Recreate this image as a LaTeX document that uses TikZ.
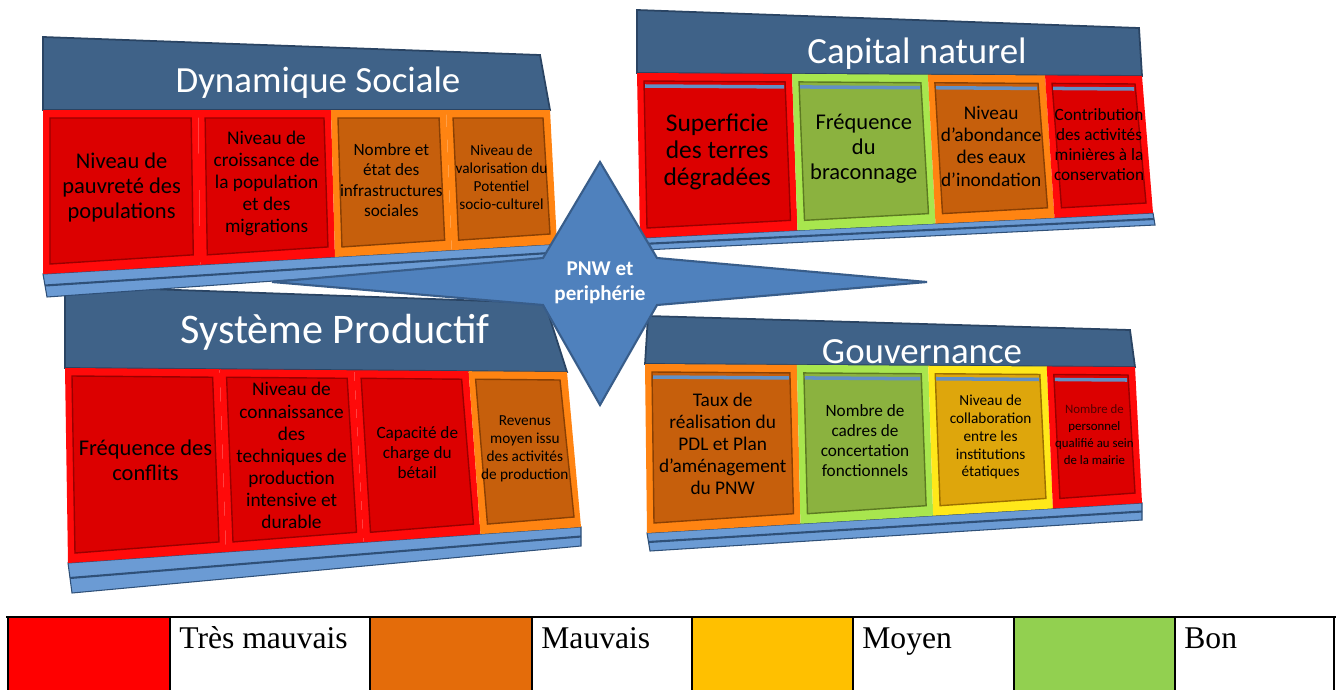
\documentclass[tikz,border=0pt]{standalone}
\usepackage{fontspec}
\setmainfont{Carlito}
\newfontfamily\legendfont{Liberation Serif}
\usetikzlibrary{calc}
\definecolor{redOut}{HTML}{FF0A0A}
\definecolor{redIn}{HTML}{DC0000}
\definecolor{redDk}{HTML}{9A0000}
\definecolor{orangeOut}{HTML}{FF8412}
\definecolor{orangeIn}{HTML}{C65F0C}
\definecolor{orangeDk}{HTML}{8A4004}
\definecolor{greenOut}{HTML}{A8E64E}
\definecolor{greenIn}{HTML}{8BB23F}
\definecolor{greenDk}{HTML}{5C7A22}
\definecolor{yellowOut}{HTML}{FFE81A}
\definecolor{yellowIn}{HTML}{DEA60C}
\definecolor{yellowDk}{HTML}{9C7000}
\definecolor{headBlue}{HTML}{3F6288}
\definecolor{headDark}{HTML}{2A4463}
\definecolor{baseBlue}{HTML}{6B9BD4}
\definecolor{baseDark}{HTML}{2F5078}
\definecolor{starBlue}{HTML}{4F81BD}
\definecolor{starDark}{HTML}{385D8A}
\definecolor{mairieRed}{HTML}{520000}
\definecolor{lgRed}{HTML}{FF0000}
\definecolor{lgOrange}{HTML}{E46C0A}
\definecolor{lgYellow}{HTML}{FFC000}
\definecolor{lgGreen}{HTML}{92D050}

\newcommand{\txtA}{\fontsize{14.5}{15.4}\selectfont}
\newcommand{\txtB}{\fontsize{12.8}{14.2}\selectfont}
\newcommand{\txtC}{\fontsize{11}{12.6}\selectfont}
\newcommand{\txtD}{\fontsize{9.8}{11.4}\selectfont}
\newcommand{\txtE}{\fontsize{8.7}{10.2}\selectfont}
\newcommand{\txtF}{\fontsize{7.3}{9.6}\selectfont}

\tikzset{
  header/.style={fill=headBlue,draw=headDark,line width=1pt},
  baseband/.style={fill=baseBlue,draw=baseDark,line width=0.6pt},
  stripe/.style={draw=baseBlue!80!headBlue,line width=2pt},
  nostripe/.style={draw=none},
  cellText/.style={align=center,inner sep=0pt,text=black},
  headText/.style={anchor=base,inner sep=0pt,text=white,font=\fontsize{21}{25}\selectfont},
  starText/.style={align=center,inner sep=0pt,text=white,font=\bfseries\fontsize{12}{14.2}\selectfont},
  legendText/.style={anchor=base west,inner sep=0pt,font=\legendfont\fontsize{18}{21}\selectfont},
}

% frame of one panel: base band and title bar
\newcommand{\drawpanel}[1]{%
  \filldraw[baseband] (#1-cl) -- (#1-cr) -- (#1-br) -- (#1-bl) -- cycle;
  \draw[baseDark,line width=1.2pt] ($(#1-cl)!0.5!(#1-bl)$) -- ($(#1-cr)!0.5!(#1-br)$);
  \filldraw[header] (#1-tl) -- (#1-tr) -- (#1-hr) -- (#1-hl) -- cycle;
}
% the four indicator cells of one panel
\newcommand{\drawcells}[3]{%
  \foreach \ta/\tb/\col/\sz/\txt [count=\k] in {#3} {
    \coordinate (A) at ($(#1-hl)!\ta!(#1-hr)$);
    \coordinate (B) at ($(#1-hl)!\tb!(#1-hr)$);
    \coordinate (C) at ($(#1-cl)!\tb!(#1-cr)$);
    \coordinate (D) at ($(#1-cl)!\ta!(#1-cr)$);
    \fill[fill=\col Out] (A) -- (B) -- (C) -- (D) -- cycle;
    \filldraw[fill=\col In,draw=\col Dk,line width=0.8pt] ($(A)+(7,8)$) -- ($(B)+(-7,8)$) -- ($(C)+(-7,-10)$) -- ($(D)+(7,-10)$) -- cycle;
    \draw[#2] ($(A)+(8,13)$) -- ($(B)+(-8,13)$);
    \node[cellText,font=\sz] (#1-\k) at ($(A)!0.5!(C)$) {\txt};
  }%
}

\begin{document}
\begin{tikzpicture}[x=0.02cm,y=-0.02cm]
  \useasboundingbox (0,0) rectangle (1338,690);
  \fill[white] (0,0) rectangle (1338,690);

  % Systeme Productif
  \coordinate (sp-tl) at (65,286);  \coordinate (sp-tr) at (545,303);
  \coordinate (sp-hl) at (65,368);  \coordinate (sp-hr) at (567,372);
  \coordinate (sp-cl) at (68,563);  \coordinate (sp-cr) at (581,527);
  \coordinate (sp-bl) at (72,593);  \coordinate (sp-br) at (581,546);
  \drawpanel{sp}
  \drawcells{sp}{nostripe}{0/.308/red/\txtB/{Fréquence des\\conflits},
    .308/.576/red/\txtC/{Niveau de\\connaissance\\des\\techniques de\\production\\intensive et\\durable},
    .576/.804/red/\txtD/{Capacité de\\charge du\\bétail},
    .804/1/orange/\txtE/{Revenus\\moyen issu\\des activités\\de production}}
  \node[headText,font=\fontsize{24}{28}\selectfont] (sp-title) at (335,343) {Système Productif};

  % Dynamique Sociale
  \coordinate (ds-tl) at (43,37);   \coordinate (ds-tr) at (540,55);
  \coordinate (ds-hl) at (43,110);  \coordinate (ds-hr) at (550,110);
  \coordinate (ds-cl) at (43,274);  \coordinate (ds-cr) at (557,244);
  \coordinate (ds-bl) at (47,297);  \coordinate (ds-br) at (557,261);
  \drawpanel{ds}
  \drawcells{ds}{nostripe}{0/.306/red/\txtB/{Niveau de\\pauvreté des\\populations},
    .306/.568/red/\txtC/{Niveau de\\croissance de\\la population\\et des\\migrations},
    .568/.795/orange/\txtD/{Nombre et\\état des\\infrastructures\\sociales},
    .795/1/orange/\txtE/{Niveau de\\valorisation du\\Potentiel\\socio-culturel}}
  \node[headText] (ds-title) at (318,92) {Dynamique Sociale};

  % Gouvernance
  \coordinate (gv-tl) at (648,316); \coordinate (gv-tr) at (1130,330);
  \coordinate (gv-hl) at (645,364); \coordinate (gv-hr) at (1135,367);
  \coordinate (gv-cl) at (647,533); \coordinate (gv-cr) at (1142,503);
  \coordinate (gv-bl) at (650,551); \coordinate (gv-br) at (1142,520);
  \drawpanel{gv}
  \drawcells{gv}{stripe}{0/.31/orange/\txtC/{Taux de\\réalisation du\\PDL et Plan\\d'aménagement\\du PNW},
    .31/.578/green/\txtD/{Nombre de\\cadres de\\concertation\\fonctionnels},
    .578/.82/yellow/\txtE/{Niveau de\\collaboration\\entre les\\institutions\\étatiques},
    .82/1/red/\txtF/{\color{mairieRed}Nombre de\\personnel\\qualifié au sein\\de la mairie}}
  \node[headText] (gv-title) at (922,363) {Gouvernance};

  % Capital naturel
  \coordinate (cn-tl) at (637,10);  \coordinate (cn-tr) at (1139,28);
  \coordinate (cn-hl) at (637,73);  \coordinate (cn-hr) at (1142,76);
  \coordinate (cn-cl) at (640,238); \coordinate (cn-cr) at (1153,213);
  \coordinate (cn-bl) at (644,250); \coordinate (cn-br) at (1155,225);
  \drawpanel{cn}
  \drawcells{cn}{stripe}{0/.307/red/\txtA/{Superficie\\des terres\\dégradées},
    .307/.576/green/\txtB/{Fréquence\\du\\braconnage},
    .576/.808/orange/\txtC/{Niveau\\d'abondance\\des eaux\\d'inondation},
    .808/1/red/\txtD/{Contribution\\des activités\\minières à la\\conservation}}
  \node[headText] (cn-title) at (917,63) {Capital naturel};

  % centre star
  \filldraw[fill=starBlue,draw=starDark,line width=1.2pt] (600,162) -- (657,258) -- (927,282) -- (657,305)
    -- (600,405) -- (543,305) -- (272,282) -- (543,258) -- cycle;
  \node[starText] (pnw) at (600,283) {PNW et\\periphérie};

  % legend
  \foreach \xa/\xb/\col/\txt [count=\k] in {8/170/lgRed/Très mauvais, 370/532/lgOrange/Mauvais,
      692/853/lgYellow/Moyen, 1014/1175/lgGreen/Bon} {
    \fill[\col] (\xa,617) rectangle (\xb,690);
    \draw[line width=1pt] (\xa,617) -- (\xa,690) (\xb,617) -- (\xb,690);
    \node[legendText] (lg-\k) at ({\xb+9},648) {\txt};
  }
  \draw[line width=1pt] (1334,617) -- (1334,690);
  \draw[line width=1.6pt] (6,617) -- (1336,617);
\end{tikzpicture}
\end{document}
